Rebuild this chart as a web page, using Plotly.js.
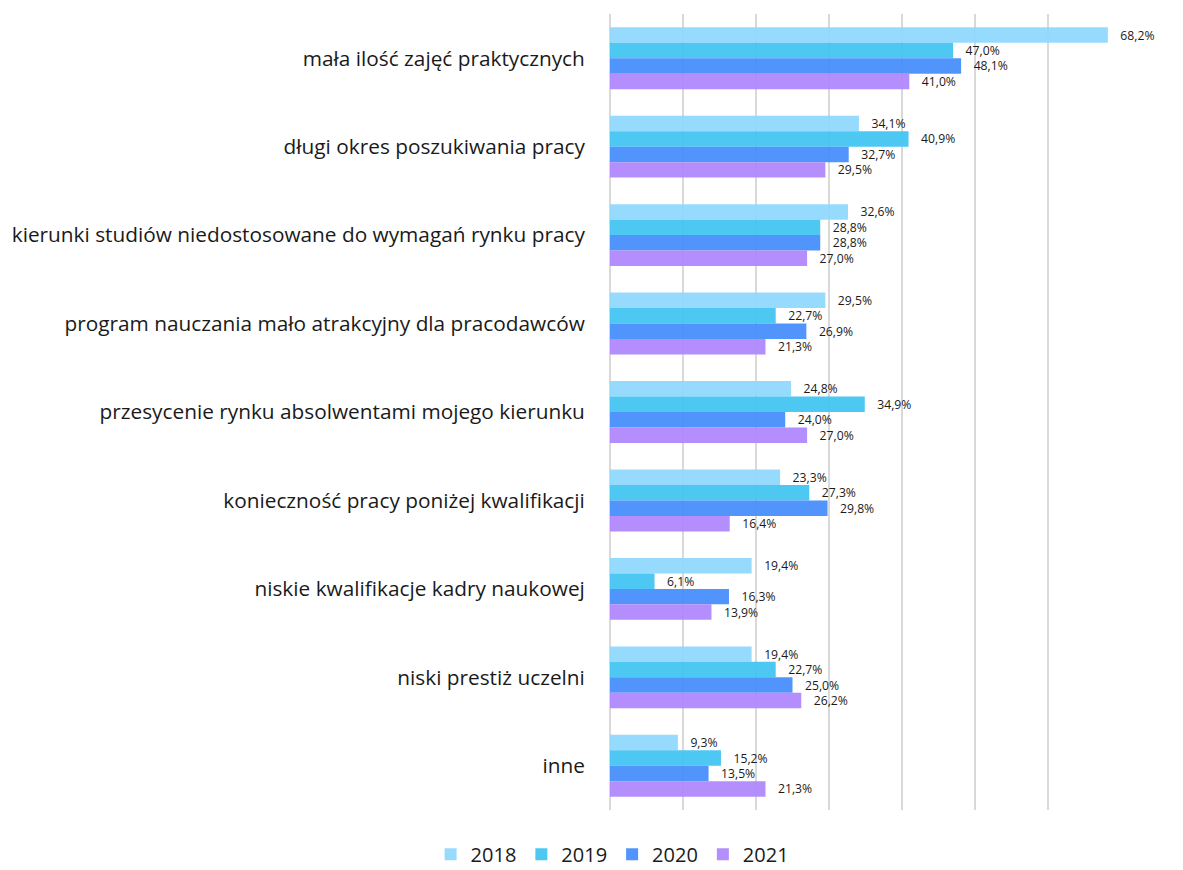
<!DOCTYPE html>
<html>
<head>
<meta charset="utf-8">
<script src="https://cdn.plot.ly/plotly-3.0.1.min.js"></script>
<style>html,body{margin:0;padding:0;background:#fff;}#chart{width:1183px;height:870px;}</style>
</head>
<body>
<div id="chart"></div>
<script>
const categories = [
  "mała ilość zajęć praktycznych",
  "długi okres poszukiwania pracy",
  "kierunki studiów niedostosowane do wymagań rynku pracy",
  "program nauczania mało atrakcyjny dla pracodawców",
  "przesycenie rynku absolwentami mojego kierunku",
  "konieczność pracy poniżej kwalifikacji",
  "niskie kwalifikacje kadry naukowej",
  "niski prestiż uczelni",
  "inne"
];
const seriesNames = ["2018", "2019", "2020", "2021"];
const v2018 = [68.2, 34.1, 32.6, 29.5, 24.8, 23.3, 19.4, 19.4, 9.3];
const v2019 = [47.0, 40.9, 28.8, 22.7, 34.9, 27.3, 6.1, 22.7, 15.2];
const v2020 = [48.1, 32.7, 28.8, 26.9, 24.0, 29.8, 16.3, 25.0, 13.5];
const v2021 = [41.0, 29.5, 27.0, 21.3, 27.0, 16.4, 13.9, 26.2, 21.3];
const colors = ["rgba(142,215,253,0.93)", "rgba(64,196,242,0.93)", "rgba(68,141,252,0.93)", "rgba(173,133,252,0.93)"];

const allValues = [v2018, v2019, v2020, v2021];
const fmt = v => "   " + v.toFixed(1).replace(".", ",") + "%";

const data = allValues.map((vals, i) => ({
  type: "bar",
  orientation: "h",
  name: seriesNames[i],
  y: categories,
  x: vals,
  text: vals.map(fmt),
  textposition: "outside",
  constraintext: "none",
  cliponaxis: false,
  textfont: {family: "'Open Sans', sans-serif", size: 12.2, color: "#1a1a1a"},
  marker: {color: colors[i]},
  hoverinfo: "x+y"
}));

const layout = {
  width: 1183,
  height: 870,
  margin: {l: 610, r: 62, t: 14, b: 60},
  paper_bgcolor: "#fff",
  plot_bgcolor: "#fff",
  barmode: "group",
  bargap: 0.3,
  bargroupgap: 0,
  showlegend: true,
  legend: {
    orientation: "h",
    xref: "container", yref: "container",
    x: 0.364, xanchor: "left",
    y: 0.018, yanchor: "middle",
    font: {family: "'Open Sans', sans-serif", size: 20, color: "#1a1a1a"}
  },
  xaxis: {
    range: [0, 70],
    dtick: 10,
    showticklabels: false,
    showgrid: true,
    gridcolor: "#d9d9d9",
    gridwidth: 1.5,
    zeroline: true,
    zerolinecolor: "#d9d9d9",
    zerolinewidth: 1.5,
    showline: false,
    automargin: false,
    fixedrange: true
  },
  yaxis: {
    autorange: "reversed",
    type: "category",
    showgrid: false,
    zeroline: false,
    showline: false,
    ticks: "outside",
    ticklen: 20,
    tickcolor: "rgba(0,0,0,0)",
    tickfont: {family: "'Open Sans', sans-serif", size: 20.8, color: "#1a1a1a"},
    automargin: false,
    fixedrange: true
  },
  separators: ", "
};

Plotly.newPlot("chart", data, layout, {displayModeBar: false, staticPlot: true});
</script>
</body>
</html>
